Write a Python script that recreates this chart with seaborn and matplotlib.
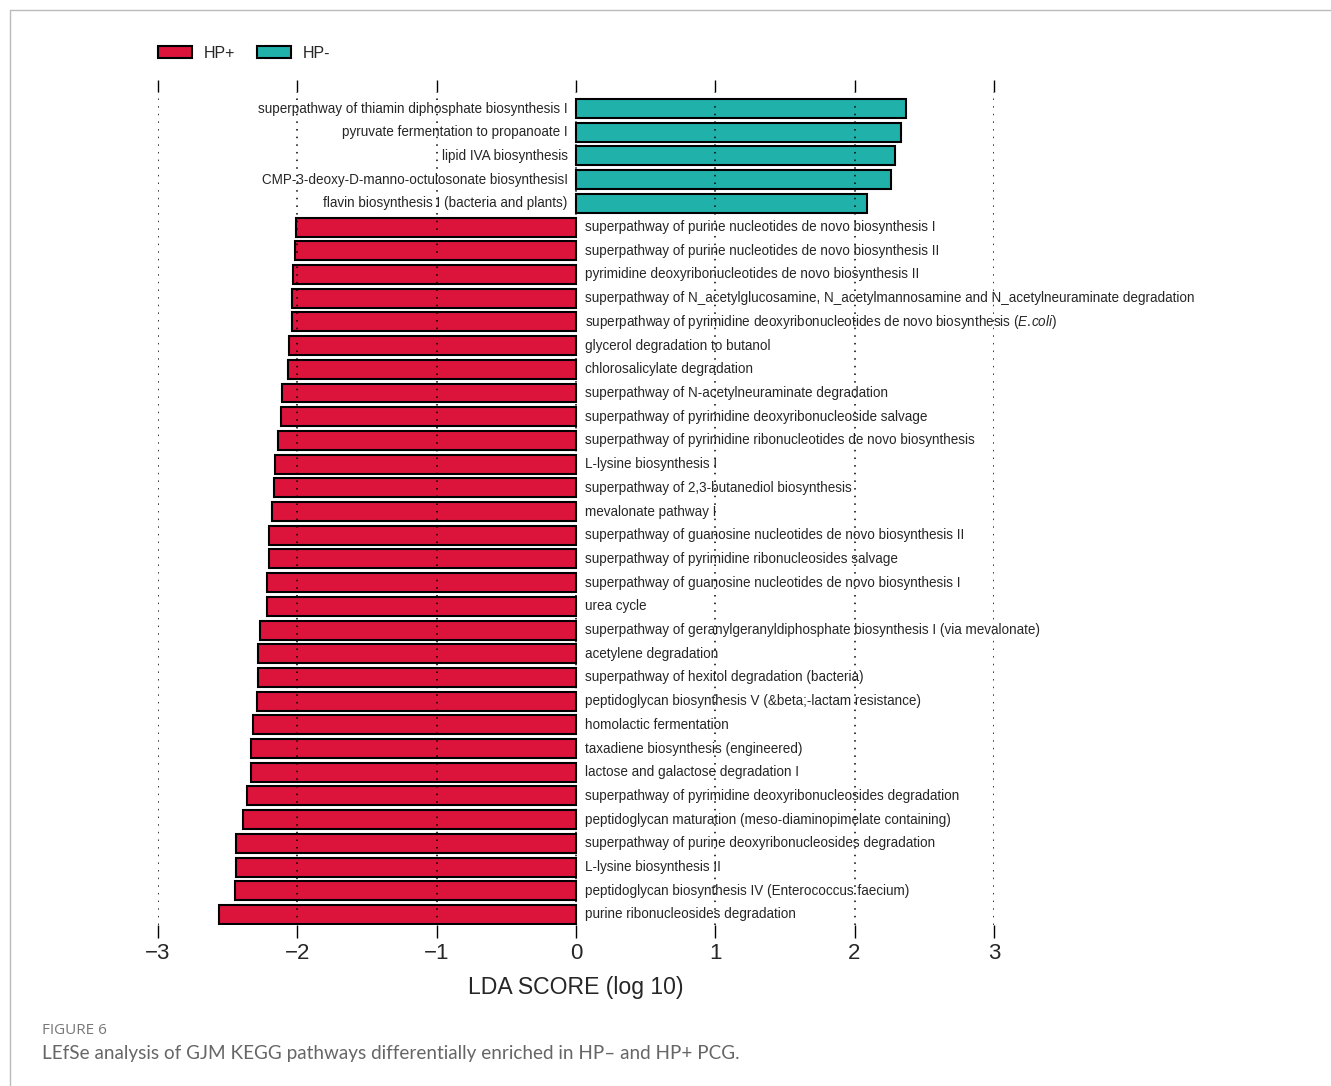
import matplotlib
matplotlib.use("Agg")
import matplotlib.pyplot as plt
import seaborn as sns
import pandas as pd
from matplotlib.lines import Line2D

# pathways, top to bottom as in the figure
hp_neg_pathways = [
    "superpathway of thiamin diphosphate biosynthesis I",
    "pyruvate fermentation to propanoate I",
    "lipid IVA biosynthesis",
    "CMP-3-deoxy-D-manno-octulosonate biosynthesisI",
    "flavin biosynthesis I (bacteria and plants)",
]
hp_neg_scores = [2.37, 2.33, 2.29, 2.26, 2.09]

hp_pos_pathways = [
    "superpathway of purine nucleotides de novo biosynthesis I",
    "superpathway of purine nucleotides de novo biosynthesis II",
    "pyrimidine deoxyribonucleotides de novo biosynthesis II",
    "superpathway of N_acetylglucosamine, N_acetylmannosamine and N_acetylneuraminate degradation",
    "superpathway of pyrimidine deoxyribonucleotides de novo biosynthesis ($\\mathit{E.\\!coli}$)",
    "glycerol degradation to butanol",
    "chlorosalicylate degradation",
    "superpathway of N-acetylneuraminate degradation",
    "superpathway of pyrimidine deoxyribonucleoside salvage",
    "superpathway of pyrimidine ribonucleotides de novo biosynthesis",
    "L-lysine biosynthesis I",
    "superpathway of 2,3-butanediol biosynthesis",
    "mevalonate pathway I",
    "superpathway of guanosine nucleotides de novo biosynthesis II",
    "superpathway of pyrimidine ribonucleosides salvage",
    "superpathway of guanosine nucleotides de novo biosynthesis I",
    "urea cycle",
    "superpathway of geranylgeranyldiphosphate biosynthesis I (via mevalonate)",
    "acetylene degradation",
    "superpathway of hexitol degradation (bacteria)",
    "peptidoglycan biosynthesis V (&beta;-lactam resistance)",
    "homolactic fermentation",
    "taxadiene biosynthesis (engineered)",
    "lactose and galactose degradation I",
    "superpathway of pyrimidine deoxyribonucleosides degradation",
    "peptidoglycan maturation (meso-diaminopimelate containing)",
    "superpathway of purine deoxyribonucleosides degradation",
    "L-lysine biosynthesis II",
    "peptidoglycan biosynthesis IV (Enterococcus faecium)",
    "purine ribonucleosides degradation",
]
hp_pos_scores = [-2.01, -2.02, -2.03, -2.04, -2.04, -2.06, -2.07, -2.11, -2.12,
                 -2.14, -2.16, -2.17, -2.18, -2.20, -2.20, -2.22, -2.22, -2.27,
                 -2.28, -2.28, -2.29, -2.32, -2.33, -2.33, -2.36, -2.39, -2.44,
                 -2.44, -2.45, -2.56]

groups = ["HP+", "HP-"]
colors = {"HP+": "#DC143C", "HP-": "#20B2AA"}
x_ticks = [-3, -2, -1, 0, 1, 2, 3]

df = pd.DataFrame({
    "pathway": hp_neg_pathways + hp_pos_pathways,
    "score": hp_neg_scores + hp_pos_scores,
    "group": ["HP-"] * len(hp_neg_pathways) + ["HP+"] * len(hp_pos_pathways),
})

sns.set_style("white")
plt.rcParams["font.family"] = ["Liberation Sans", "DejaVu Sans"]
plt.rcParams["mathtext.fontset"] = "custom"
plt.rcParams["mathtext.rm"] = "Liberation Sans"
plt.rcParams["mathtext.it"] = "Liberation Sans:italic"

fig = plt.figure(figsize=(13.31, 10.86), dpi=100)
ax = fig.add_axes([0.1187, 0.1479, 0.628, 0.767])

sns.barplot(data=df, x="score", y="pathway", hue="group", hue_order=groups,
            palette=colors, saturation=1, dodge=False, orient="h", width=0.8,
            edgecolor="black", linewidth=1.5, legend=False, ax=ax, zorder=2)

# dotted verticals over the bars
for xv in x_ticks:
    ax.axvline(xv, color="black", linestyle=(0, (1, 4)), linewidth=1.1, zorder=3)

# labels next to the zero line
for i, (name, val) in enumerate(zip(df["pathway"], df["score"])):
    if val > 0:
        ax.text(-0.06, i, name, ha="right", va="center", fontsize=9.75, zorder=4)
    else:
        ax.text(0.065, i, name, ha="left", va="center", fontsize=9.75, zorder=4)

n = len(df)
ax.set_xlim(-3, 3)
ax.set_ylim(n - 1 + 0.46, -0.68)
ax.set_yticks([])
ax.set_ylabel("")
ax.set_xticks(x_ticks)
ax.set_xticklabels(["\u22123", "\u22122", "\u22121", "0", "1", "2", "3"])
ax.tick_params(axis="x", bottom=True, top=True, direction="out", length=9,
               width=1, labelsize=16, pad=4, color="black")
ax.set_xlabel("LDA SCORE (log 10)", fontsize=16.6, labelpad=8)
for s in ax.spines.values():
    s.set_visible(False)

handles = [plt.Rectangle((0, 0), 1, 1, facecolor=colors[g], edgecolor="black",
                         linewidth=1.5) for g in groups]
fig.legend(handles, groups, loc="upper left", bbox_to_anchor=(0.108, 0.971),
           ncol=2, frameon=False, fontsize=11.5, handlelength=2.1,
           handleheight=0.8, columnspacing=1.4, handletextpad=0.75)

# light frame and caption
fig.add_artist(Line2D([0.0075, 1.0], [0.9908, 0.9908], color="#bbbbbb", lw=1))
fig.add_artist(Line2D([0.0075, 0.0075], [0.0, 0.9908], color="#bbbbbb", lw=1))
fig.text(0.0316, 0.0515, "FIGURE 6", fontsize=11, color="#777777",
         family=["Open Sans", "DejaVu Sans"], va="center", ha="left")
fig.text(0.0316, 0.0302,
         "LEfSe analysis of GJM KEGG pathways differentially enriched in HP\u2013 and HP+ PCG.",
         fontsize=13.6, color="#666666", family=["Lato", "DejaVu Sans"],
         va="center", ha="left")

fig.savefig("out.png", dpi=100)
